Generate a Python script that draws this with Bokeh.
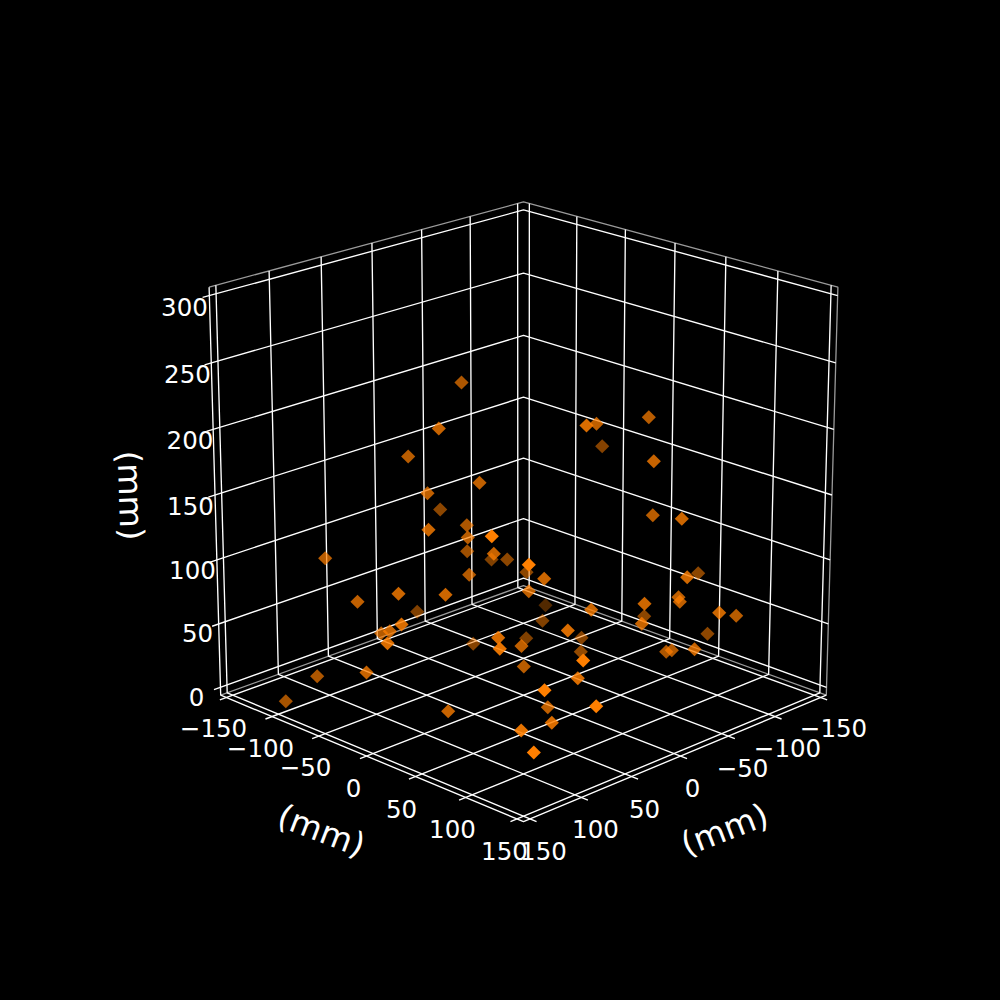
import math
import numpy as np
from bokeh.plotting import figure
from bokeh.embed import file_html
from bokeh.resources import INLINE
from bokeh.core.properties import value

xy_ticks = [-150, -100, -50, 0, 50, 100, 150]
z_ticks = [0, 50, 100, 150, 200, 250, 300]
xy_tick_labels = ["\u2212150", "\u2212100", "\u221250", "0", "50", "100", "150"]
z_tick_labels = ["0", "50", "100", "150", "200", "250", "300"]
axis_label = "(mm)"

# scatter points as they appear in the picture (image x, image y, depth shade)
pts_x = [461, 438.3, 407.7, 479, 427, 439.7, 466.3, 467.3, 491.3, 428, 324.7, 466.7, 493.3, 491, 506.7,
         468.7, 398, 445, 357, 416.7, 401, 389.3, 380.7, 387, 472.7, 497.7, 499.3, 521, 525.7, 523.3,
         366, 316.7, 285.3, 447.7, 520.7, 528.3, 526, 543.7, 528.3, 545, 542, 590.7, 567.3, 581, 580.3,
         582.7, 577.3, 544, 547.3, 595.7, 551.3, 533.3, 644, 643.7, 641.3, 678, 679.3, 686.7, 697.7,
         718.7, 735.7, 707, 694, 665.7, 671.3, 648.3, 586, 596, 601.7, 653.3, 652.3, 681.3]
pts_y = [382, 428, 456, 482.3, 492.7, 509, 524.7, 537, 535.7, 529.3, 557.7, 550.7, 553.3, 559, 559,
         574.3, 593.3, 594.3, 601.3, 611.3, 624, 630.7, 632.7, 642.7, 643.3, 637.3, 648.3, 645.5, 637.7, 666,
         672, 675.7, 700.7, 710.7, 730, 564.3, 571.7, 578.3, 590.7, 604.7, 620.3, 609.3, 630, 637.3, 651.3,
         660, 677.7, 689.7, 706.7, 705.7, 722.3, 752, 603.3, 615.7, 623.3, 596.7, 601.3, 576.7, 572.7,
         612.3, 615.3, 633.3, 648.7, 651.3, 649.7, 416.7, 425, 423.3, 445.7, 460.7, 514.7, 518.3]
pts_shade = [0.68, 0.78, 0.72, 0.75, 0.75, 0.55, 0.68, 0.72, 1.0, 0.8, 0.72, 0.62, 0.78, 0.5, 0.55,
             0.7, 0.8, 0.8, 0.75, 0.5, 0.85, 0.78, 0.7, 0.85, 0.52, 0.85, 0.9, 0.75, 0.5, 0.72,
             0.78, 0.68, 0.65, 0.78, 0.9, 1.0, 0.55, 0.8, 0.75, 0.32, 0.5, 0.8, 0.85, 0.52, 0.58,
             1.0, 0.85, 1.0, 0.75, 1.0, 0.85, 1.0, 0.8, 0.55, 0.78, 0.75, 0.75, 0.82, 0.55,
             0.8, 0.72, 0.55, 0.78, 0.68, 0.7, 0.72, 0.85, 0.75, 0.52, 0.78, 0.72, 0.8]

# 3D view
ELEV, AZIM = math.radians(20), math.radians(45)
DIST, SX, SY, CX, CY = 18.2, 3970.0, 3950.0, 523.0, 494.5
XY_LIM, Z_LO, Z_HI = 156.25, -6.25, 306.25
TICK_OUT = 6.25

n = np.array([math.cos(ELEV)*math.cos(AZIM), math.cos(ELEV)*math.sin(AZIM), math.sin(ELEV)])
u = np.array([-math.sin(AZIM), math.cos(AZIM), 0.0])
v = np.cross(n, u)

def project(x, y, z):
    p = np.array([x/XY_LIM, y/XY_LIM, (z-150.0)/XY_LIM])
    d = DIST - p @ n
    return CX + SX*(p @ u)/d, CY - SY*(p @ v)/d

def path(*pts):
    xy = [project(*q) for q in pts]
    return [a for a, b in xy], [b for a, b in xy]

L = XY_LIM
grid, edge_gray, edge_white = [], [], []
for t in xy_ticks:
    grid.append(path((t, L+TICK_OUT, Z_LO), (t, -L, Z_LO), (t, -L, Z_HI)))
    grid.append(path((L+TICK_OUT, t, Z_LO), (-L, t, Z_LO), (-L, t, Z_HI)))
for t in z_ticks:
    grid.append(path((L+TICK_OUT, -L, t), (-L, -L, t), (-L, L, t)))

edge_gray.append(path((L, -L, Z_HI), (-L, -L, Z_HI), (-L, L, Z_HI), (-L, L, Z_LO), (-L, -L, Z_LO), (L, -L, Z_LO)))
edge_white.append(path((L, -L, Z_HI), (L, -L, Z_LO), (L, L, Z_LO), (-L, L, Z_LO)))

p = figure(width=984, height=984, x_range=(0, 984), y_range=(984, 0),
           output_backend="svg", toolbar_location=None, min_border=0,
           background_fill_color="black", border_fill_color="black")
p.axis.visible = False
p.grid.visible = False
p.outline_line_color = None

p.multi_line([g[0] for g in edge_gray], [g[1] for g in edge_gray], line_color="#9a9a9a", line_width=1.3)
p.multi_line([g[0] for g in grid], [g[1] for g in grid], line_color="white", line_width=1.35)
p.multi_line([g[0] for g in edge_white], [g[1] for g in edge_white], line_color="white", line_width=1.35)

p.scatter(pts_x, pts_y, marker="square", angle=math.pi/4, size=10, fill_color="#ff7f00",
          line_color=None, fill_alpha=pts_shade)

FONT = value("DejaVu Sans")
left_lab_x = [213, 260, 305, 353, 401, 452, 504]
left_lab_y = [727, 747, 766, 787, 808, 828, 850]
right_lab_x = [833, 787, 742, 692, 644, 595, 543]
right_lab_y = [727, 747, 767, 787, 808, 828, 850]
z_lab_x = [196, 197, 192, 190, 189.5, 187, 184]
z_lab_y = [696, 632, 569, 505, 439, 373, 306]
for xs, ys, labs in [(left_lab_x, left_lab_y, xy_tick_labels), (right_lab_x, right_lab_y, xy_tick_labels),
                     (z_lab_x, z_lab_y, z_tick_labels)]:
    p.text(xs, ys, text=labs, text_color="white", text_font=FONT, text_font_size="24.5px",
           text_align="center", text_baseline="middle")

p.text([321, 724, 130], [830, 829, 495], text=[axis_label]*3, angle=[math.radians(-21), math.radians(21), math.radians(-88)],
       text_color="white", text_font=FONT, text_font_size="33px", text_align="center", text_baseline="middle")

html = file_html(p, INLINE)
html = html.replace("</head>", "<style>html,body{background:#000}</style></head>")
open("out.html", "w").write(html)
